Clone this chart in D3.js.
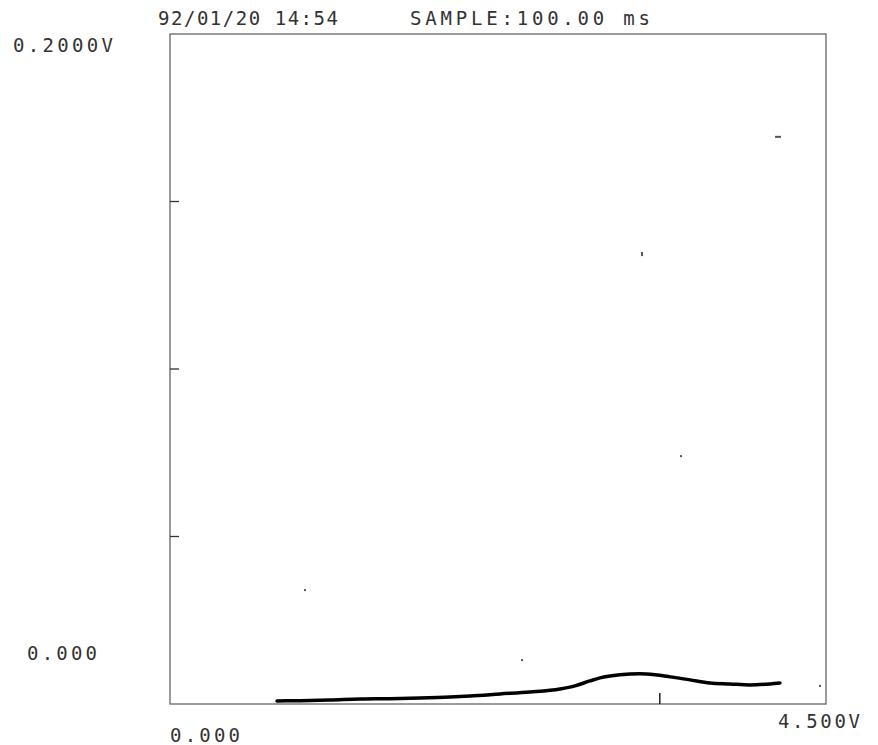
<!DOCTYPE html>
<html>
<head>
<meta charset="utf-8">
<style>
  body { margin: 0; background: #fff; }
  svg { display: block; }
  text {
    font-family: "DejaVu Sans Mono", "Liberation Mono", monospace;
    fill: #333;
    font-size: 19px;
  }
</style>
</head>
<body>
<script src="https://d3js.org/d3.v7.min.js"></script>
<script>

// trace (volts)
var traceX = [0.734, 0.892, 1.097, 1.303, 1.509, 1.715, 1.921, 2.058, 2.264, 2.470, 2.675, 2.778,
              2.881, 2.950, 3.087, 3.224, 3.327, 3.430, 3.567, 3.704, 3.841, 3.979, 4.116, 4.184];
var traceY = [0.0009, 0.0010, 0.0012, 0.0015, 0.0016, 0.0018, 0.0021, 0.0024, 0.0030, 0.0036, 0.0045, 0.0054,
              0.0069, 0.0078, 0.0087, 0.0090, 0.0087, 0.0081, 0.0072, 0.0063, 0.0060, 0.0057, 0.0060, 0.0063];

// stray plotter specks
var speckX = [4.171, 3.238, 3.505, 0.926, 2.415, 4.459];
var speckY = [0.1693, 0.1346, 0.0740, 0.0340, 0.0131, 0.0054];

var yTicks = [0.05, 0.10, 0.15];
var xTicks = [3.36];

var header = ["92/01/20 14:54", "SAMPLE:100.00 ms"];
var yLabels = ["0.2000V", "0.000"];
var xLabels = ["0.000", "4.500V"];

var width = 878, height = 745;
var box = {left: 170, right: 826, top: 34, bottom: 704};

var svg = d3.select("body").append("svg")
    .attr("width", width)
    .attr("height", height);

var x = d3.scaleLinear().domain([0, 4.5]).range([box.left, box.right]);
var y = d3.scaleLinear().domain([0, 0.2]).range([box.bottom, box.top]);

// frame
svg.append("rect")
    .attr("x", box.left)
    .attr("y", box.top)
    .attr("width", box.right - box.left)
    .attr("height", box.bottom - box.top)
    .attr("fill", "none")
    .attr("stroke", "#666")
    .attr("stroke-width", 1.3);

// ticks
svg.selectAll(".ytick")
    .data(yTicks)
    .enter()
    .append("line")
    .attr("x1", box.left)
    .attr("x2", box.left + 9)
    .attr("y1", function(d) { return y(d); })
    .attr("y2", function(d) { return y(d); })
    .attr("stroke", "#333")
    .attr("stroke-width", 1.3);

svg.selectAll(".xtick")
    .data(xTicks)
    .enter()
    .append("line")
    .attr("x1", function(d) { return x(d); })
    .attr("x2", function(d) { return x(d); })
    .attr("y1", box.bottom)
    .attr("y2", box.bottom - 11)
    .attr("stroke", "#222")
    .attr("stroke-width", 1.5);

// trace
var pts = traceX.map(function(d, i) { return [d, traceY[i]]; });
var line = d3.line()
    .x(function(d) { return x(d[0]); })
    .y(function(d) { return y(d[1]); })
    .curve(d3.curveMonotoneX);

svg.append("path")
    .datum(pts)
    .attr("d", line)
    .attr("fill", "none")
    .attr("stroke", "#000")
    .attr("stroke-width", 3.5)
    .attr("stroke-linecap", "round");

// specks
svg.selectAll(".speck")
    .data(speckX)
    .enter()
    .append("rect")
    .attr("x", function(d, i) { return x(d) - (i == 0 ? 3 : 1); })
    .attr("y", function(d, i) { return y(speckY[i]) - 1; })
    .attr("width", function(d, i) { return i == 0 ? 6 : 2; })
    .attr("height", function(d, i) { return i == 1 ? 4 : 2; })
    .attr("fill", "#555");

// labels
function label(txt, px, py, w) {
  svg.append("text")
      .attr("x", px)
      .attr("y", py)
      .attr("textLength", w)
      .attr("lengthAdjust", "spacing")
      .text(txt);
}

label(header[0], 158, 25, 180);
label(header[1], 410, 25, 240);
label(yLabels[0], 13, 52, 100);
label(yLabels[1], 27, 660, 70);
label(xLabels[0], 170, 742, 70);
label(xLabels[1], 778, 728, 82);

</script>
</body>
</html>
